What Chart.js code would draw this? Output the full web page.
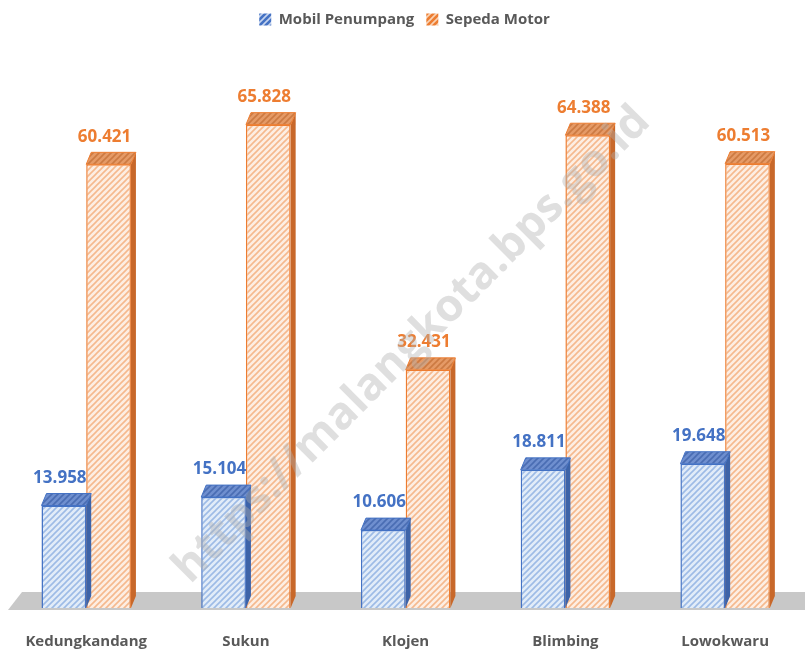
<!DOCTYPE html>
<html>
<head>
<meta charset="utf-8">
<script src="https://cdn.jsdelivr.net/npm/chart.js@4"></script>
<style>
  html, body { margin: 0; padding: 0; background: #fff; }
  #wrap { width: 805px; height: 651px; }
</style>
</head>
<body>
<div id="wrap"><canvas id="chart" width="805" height="651"></canvas></div>
<script>
var kecamatan = ['Kedungkandang', 'Sukun', 'Klojen', 'Blimbing', 'Lowokwaru'];
var mobilPenumpang = [13.958, 15.104, 10.606, 18.811, 19.648];
var sepedaMotor = [60.421, 65.828, 32.431, 64.388, 60.513];
var seriesNames = ['Mobil Penumpang', 'Sepeda Motor'];
var seriesColors = ['#4472c4', '#ed7d31'];

function hatch(base, stripe) {
  var c = document.createElement('canvas');
  c.width = 6; c.height = 6;
  var g = c.getContext('2d');
  g.fillStyle = base;
  g.fillRect(0, 0, 6, 6);
  g.strokeStyle = stripe;
  g.lineWidth = 1.6;
  g.beginPath();
  g.moveTo(-1, 7); g.lineTo(7, -1);
  g.moveTo(-4, 4); g.lineTo(4, -4);
  g.moveTo(2, 10); g.lineTo(10, 2);
  g.stroke();
  return g.createPattern(c, 'repeat');
}

var ctx = document.getElementById('chart');
var blueFill = hatch('#e2ecf8', '#9dbbe6');
var orangeFill = hatch('#fdeee3', '#f5b98e');
var blueTop = hatch('#6f8fcf', '#4a6db3');
var orangeTop = hatch('#e59a66', '#cc7a42');
var legendFills = [hatch('#4472c4', '#c6d4ee'), hatch('#ed7d31', '#f9d3b5')];

var depthX = 5, depthY = 12;

// grey floor, 3D faces, value labels and watermark
var extras = {
  id: 'extras',
  beforeInit: function(chart) {
    var fit = chart.legend.fit;
    chart.legend.fit = function() {
      fit.bind(chart.legend)();
      this.height += 57;
    };
  },
  beforeDatasetsDraw: function(chart) {
    var c = chart.ctx, a = chart.chartArea;
    c.save();
    c.fillStyle = '#c8c8c8';
    c.beginPath();
    c.moveTo(8, a.bottom + 2);
    c.lineTo(22, a.bottom - 16);
    c.lineTo(805, a.bottom - 16);
    c.lineTo(805, a.bottom + 2);
    c.closePath();
    c.fill();
    c.restore();
  },
  afterDatasetDraw: function(chart, args) {
    var c = chart.ctx;
    var i = args.index;
    args.meta.data.forEach(function(bar) {
      var l = bar.x - bar.width / 2, r = bar.x + bar.width / 2;
      var t = bar.y, b = bar.base;
      c.save();
      c.fillStyle = i === 0 ? '#3d63a8' : '#c8682a';
      c.beginPath();
      c.moveTo(r, t); c.lineTo(r + depthX, t - depthY);
      c.lineTo(r + depthX, b - depthY); c.lineTo(r, b);
      c.closePath(); c.fill();
      c.fillStyle = i === 0 ? blueTop : orangeTop;
      c.beginPath();
      c.moveTo(l, t); c.lineTo(l + depthX, t - depthY);
      c.lineTo(r + depthX, t - depthY); c.lineTo(r, t);
      c.closePath(); c.fill();
      c.strokeStyle = seriesColors[i];
      c.lineWidth = 1;
      c.stroke();
      c.restore();
    });
  },
  afterDatasetsDraw: function(chart) {
    var c = chart.ctx;
    c.save();
    c.font = 'bold 17px "Open Sans"';
    c.textAlign = 'center';
    c.textBaseline = 'bottom';
    chart.data.datasets.forEach(function(ds, i) {
      chart.getDatasetMeta(i).data.forEach(function(bar, j) {
        c.fillStyle = seriesColors[i];
        c.fillText(ds.data[j].toFixed(3), bar.x - 4, bar.y - depthY - 7);
      });
    });
    // watermark
    c.translate(412, 345);
    c.rotate(-Math.PI / 4);
    c.font = 'bold 45px "Open Sans"';
    c.textBaseline = 'middle';
    c.fillStyle = 'rgba(175,175,175,0.4)';
    c.fillText('https://malangkota.bps.go.id', 0, 0);
    c.restore();
  }
};

new Chart(ctx, {
  type: 'bar',
  data: {
    labels: kecamatan,
    datasets: [{
      label: seriesNames[0],
      data: mobilPenumpang,
      backgroundColor: blueFill,
      borderColor: seriesColors[0],
      borderWidth: 1.5
    }, {
      label: seriesNames[1],
      data: sepedaMotor,
      backgroundColor: orangeFill,
      borderColor: seriesColors[1],
      borderWidth: 1.5
    }]
  },
  options: {
    responsive: false,
    animation: false,
    layout: { padding: { left: 4, right: 0, top: 0, bottom: 0 } },
    datasets: {
      bar: { categoryPercentage: 0.56, barPercentage: 1.0 }
    },
    plugins: {
      legend: {
        position: 'top',
        labels: {
          boxWidth: 12,
          boxHeight: 12,
          padding: 12,
          color: '#595959',
          font: { family: 'Open Sans', size: 15, weight: 'bold' },
          generateLabels: function(chart) {
            var items = Chart.defaults.plugins.legend.labels.generateLabels(chart);
            items.forEach(function(it, k) { it.fillStyle = legendFills[k]; it.lineWidth = 0; });
            return items;
          }
        }
      },
      tooltip: { enabled: false }
    },
    scales: {
      x: {
        grid: { display: false, drawTicks: false },
        border: { display: false },
        afterFit: function(scale) { scale.height = 43; },
        ticks: {
          color: '#595959',
          padding: 25,
          font: { family: 'Open Sans', size: 15, weight: 'bold' }
        }
      },
      y: {
        display: false,
        min: 0,
        max: 70
      }
    }
  },
  plugins: [extras]
});
</script>
</body>
</html>
